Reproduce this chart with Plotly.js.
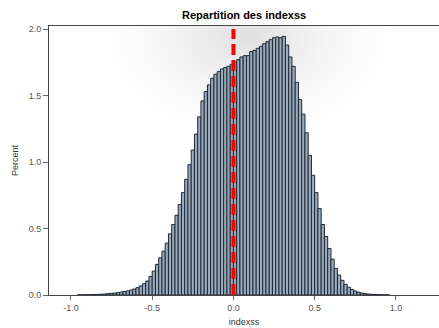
<!DOCTYPE html>
<html>
<head>
<meta charset="utf-8">
<script src="https://cdn.plot.ly/plotly-3.0.1.min.js"></script>
<style>
  html, body { margin: 0; padding: 0; background: #ffffff; }
  #wrap { position: relative; width: 439px; height: 328px; }
  #glow {
    position: absolute; left: 49px; top: 26px; width: 390px; height: 269px;
    background: radial-gradient(ellipse 140px 100px at 199px 8px, #e0e0e0 0%, #ebebeb 30%, #f6f6f6 62%, #ffffff 100%);
  }
  #chart { position: absolute; left: 0; top: 0; width: 439px; height: 328px; }
</style>
</head>
<body>
<div id="wrap">
<div id="glow"></div>
<div id="chart"></div>
</div>
<script>
// Bin midpoints (bin width 0.02)
const binCenters = [
  -0.95,-0.93,-0.91,-0.89,-0.87,-0.85,-0.83,-0.81,-0.79,-0.77,
  -0.75,-0.73,-0.71,-0.69,-0.67,-0.65,-0.63,-0.61,-0.59,-0.57,
  -0.55,-0.53,-0.51,-0.49,-0.47,-0.45,-0.43,-0.41,-0.39,-0.37,
  -0.35,-0.33,-0.31,-0.29,-0.27,-0.25,-0.23,-0.21,-0.19,-0.17,
  -0.15,-0.13,-0.11,-0.09,-0.07,-0.05,-0.03,-0.01, 0.01, 0.03,
   0.05, 0.07, 0.09, 0.11, 0.13, 0.15, 0.17, 0.19, 0.21, 0.23,
   0.25, 0.27, 0.29, 0.31, 0.33, 0.35, 0.37, 0.39, 0.41, 0.43,
   0.45, 0.47, 0.49, 0.51, 0.53, 0.55, 0.57, 0.59, 0.61, 0.63,
   0.65, 0.67, 0.69, 0.71, 0.73, 0.75, 0.77, 0.79, 0.81, 0.83,
   0.85, 0.87, 0.89, 0.91, 0.93, 0.95
];
// Percent of observations per bin
const percentValues = [
  0.001,0.001,0.002,0.002,0.003,0.004,0.005,0.006,0.008,0.010,
  0.012,0.015,0.018,0.022,0.026,0.031,0.037,0.045,0.055,0.068,
  0.085,0.105,0.140,0.180,0.230,0.280,0.330,0.390,0.460,0.530,
  0.600,0.680,0.770,0.870,0.980,1.090,1.210,1.340,1.460,1.530,
  1.580,1.630,1.660,1.680,1.700,1.710,1.720,1.735,1.750,1.770,
  1.790,1.800,1.800,1.830,1.840,1.855,1.870,1.890,1.905,1.920,
  1.935,1.940,1.935,1.945,1.880,1.790,1.720,1.600,1.470,1.360,
  1.220,1.050,0.900,0.770,0.650,0.530,0.440,0.350,0.270,0.200,
  0.150,0.110,0.080,0.058,0.042,0.030,0.021,0.015,0.010,0.007,
  0.005,0.004,0.003,0.002,0.001,0.001
];
const binWidth = 0.02;
// Reference line
const refLineX = [0, 0];
const refLineY = [0, 2.0];
// Tick labels
const xTickVals = [-1.0, -0.5, 0.0, 0.5, 1.0];
const xTickText = ["-1.0", "-0.5", "0.0", "0.5", "1.0"];
const yTickVals = [0.0, 0.5, 1.0, 1.5, 2.0];
const yTickText = ["0.0", "0.5", "1.0", "1.5", "2.0"];

const traces = [
  {
    type: 'bar',
    x: binCenters,
    y: percentValues,
    width: binWidth,
    marker: { color: '#9aabbd', line: { color: '#1e2835', width: 1 } },
    hoverinfo: 'skip'
  },
  {
    type: 'scatter',
    mode: 'lines',
    x: refLineX,
    y: refLineY,
    line: { color: '#ff0000', width: 4, dash: '11px,5px' },
    hoverinfo: 'skip'
  }
];

const tickFont = { family: 'Liberation Sans, Arial, sans-serif', size: 9, color: '#555555' };

const layout = {
  width: 439, height: 328,
  margin: { l: 49, r: 0, t: 26, b: 33 },
  paper_bgcolor: 'rgba(0,0,0,0)',
  plot_bgcolor: 'rgba(0,0,0,0)',
  showlegend: false,
  bargap: 0,
  title: {
    text: '<b>Repartition des indexss</b>',
    font: { family: 'Liberation Sans, Arial, sans-serif', size: 11, color: '#000000' },
    x: 0.556, xanchor: 'center', y: 0.955, yanchor: 'middle'
  },
  xaxis: {
    range: [-1.135, 1.265],
    tickmode: 'array', tickvals: xTickVals, ticktext: xTickText,
    ticks: 'outside', ticklen: 4, tickcolor: '#666666', tickwidth: 1,
    tickfont: tickFont,
    showgrid: false, zeroline: false,
    showline: true, linecolor: '#444444', linewidth: 1, mirror: true,
    title: { text: 'indexss', font: { family: 'Liberation Sans, Arial, sans-serif', size: 9, color: '#333333' }, standoff: 6 }
  },
  yaxis: {
    range: [0, 2.023],
    tickmode: 'array', tickvals: yTickVals, ticktext: yTickText,
    ticks: 'outside', ticklen: 5, tickcolor: '#666666', tickwidth: 1,
    tickfont: tickFont,
    showgrid: false, zeroline: false,
    showline: true, linecolor: '#444444', linewidth: 1,
    title: { text: 'Percent', font: { family: 'Liberation Sans, Arial, sans-serif', size: 9, color: '#333333' }, standoff: 8 }
  }
};

Plotly.newPlot('chart', traces, layout, { staticPlot: true, displayModeBar: false });
</script>
</body>
</html>
